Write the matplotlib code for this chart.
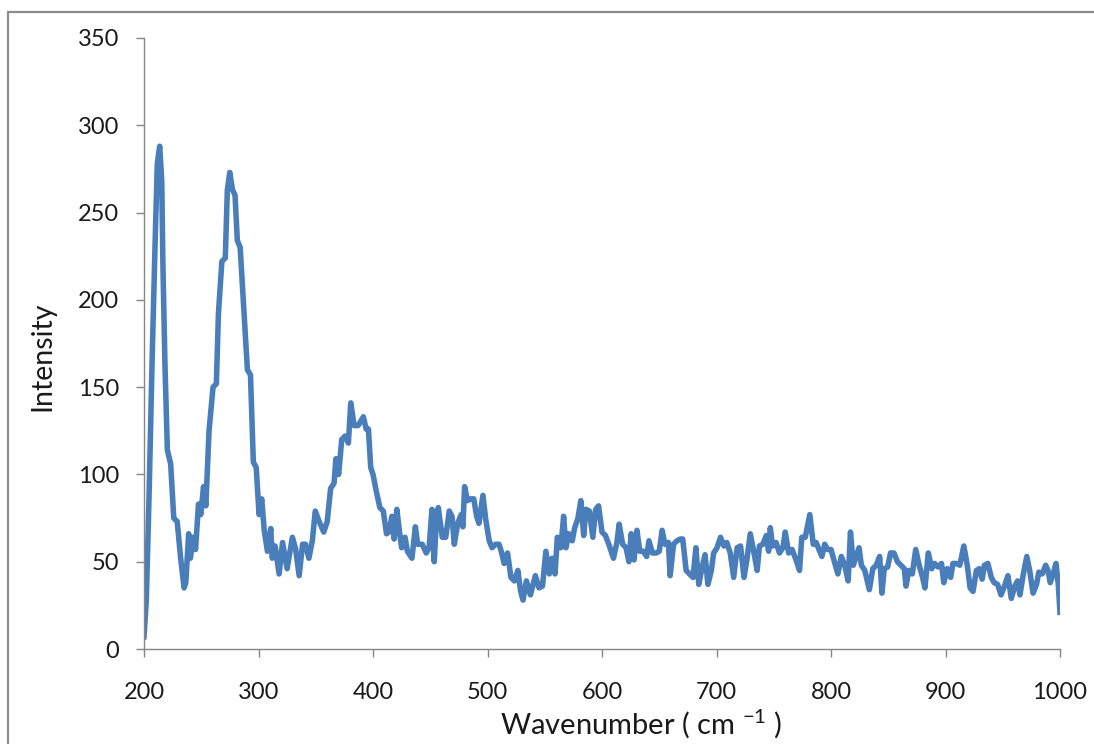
import numpy as np
import matplotlib.pyplot as plt
from matplotlib.patches import Rectangle

# Raman spectrum, values
wavenumber = [
    200, 202, 204.4, 207, 209.6, 211.6, 213.7, 215.5, 216.5, 218.3, 220.4, 223.3, 226, 229, 232, 235, 236.5,
    239, 240.5, 243, 245, 247.6, 249.6, 252, 254, 256.8, 260.3, 263.2, 265, 268, 271, 272.8, 274.9, 277.3,
    279.5, 281.5, 284, 287.4, 290.3, 293, 295.5, 298, 300.5, 302.8, 305, 307.8, 310.7, 312, 314.5, 318, 321,
    325, 329.6, 332.5, 335.5, 338.5, 341, 344, 347, 349.6, 353, 357, 360, 363, 366, 367.6, 370, 372.7, 375.6,
    378.5, 380.6, 383.5, 387, 391.6, 394, 396, 398, 400, 403, 406, 409, 411.8, 414, 416.5, 418.5, 420.8, 423,
    425, 428, 430, 434, 437, 439, 443, 446.5, 449, 451.5, 453.5, 455.5, 457, 460.5, 463.5, 466.6, 469, 471,
    474, 477, 478.5, 480, 482.5, 485.5, 488, 490.5, 492.5, 496, 498.5, 501.5, 504, 507, 510, 512, 514.5,
    517.5, 520.5, 523.5, 526.5, 529, 531, 534, 537.5, 541.8, 545, 548, 551, 554, 556.5, 559, 561, 564, 566.5,
    568.5, 571, 574, 576, 579, 581.5, 584, 586, 589, 592, 594.5, 597, 600, 603, 606.5, 610, 613, 615, 618,
    621, 623.5, 625.5, 628, 630.5, 633, 636, 639, 641, 644, 647.5, 650, 652.5, 655, 658, 659.5, 662.5, 665.5,
    668.5, 670.5, 673.5, 676.5, 679.5, 682, 684.5, 687.5, 690, 692.5, 695.5, 697.5, 700.5, 703.5, 706.5, 709,
    712, 715, 718, 721, 724, 726.5, 729.5, 732.5, 735.5, 737.5, 740.5, 743.5, 745.5, 747, 749, 752, 755, 758,
    760, 763, 766, 769.5, 772.5, 774.5, 777.5, 781.5, 784.5, 787, 789.5, 792, 794.5, 797, 800, 803, 806, 809,
    812, 815, 817, 819.5, 822, 824.5, 826.5, 829.5, 833.5, 836.5, 839.5, 842.5, 844.5, 846.5, 849.5, 852, 855,
    858, 861, 864, 865.5, 868, 871, 874, 877, 880, 882, 885, 888, 890.5, 893.5, 896.5, 898.5, 901.5, 904.5,
    906.5, 909.5, 912.5, 916, 919, 921.5, 924, 927, 929.5, 932, 934, 937, 940, 942.5, 945.5, 948.5, 951.5,
    954.5, 957.5, 960.5, 963, 965, 968, 971, 973.5, 976.5, 979.5, 981.5, 984.5, 987.5, 989.5, 991.5, 994,
    996.5, 998.5, 1000,
]
intensity = [
    7, 28, 87, 163, 230, 278, 288, 268, 221, 163, 114, 106, 75, 73, 52, 35, 38,
    66, 52, 64, 57, 83, 77, 93, 82, 125, 150, 152, 192, 222, 224, 263, 273, 263,
    260, 234, 230, 192, 160, 157, 107, 104, 77, 86, 68, 56, 69, 52, 59, 43, 61,
    46, 64, 57, 42, 60, 60, 52, 62, 79, 73, 67, 73, 92, 95, 109, 100, 120, 122,
    118, 141, 128, 128, 133, 126, 126, 104, 100, 90, 81, 79, 66, 67, 76, 63, 80, 68,
    58, 64, 56, 52, 70, 60, 60, 55, 58, 80, 50, 77, 81, 64, 64, 79, 76, 60,
    72, 77, 70, 93, 85, 86, 86, 76, 72, 88, 74, 62, 58, 60, 60, 56, 49,
    55, 41, 39, 45, 33, 28, 39, 31, 42, 35, 36, 56, 43, 52, 43, 64, 58, 76,
    58, 66, 62, 69, 75, 85, 65, 80, 79, 64, 80, 82, 67, 65, 59, 52, 61, 71.5, 60,
    58, 50, 66, 51, 68, 56, 56, 53, 62, 55, 55, 56, 68, 60, 61, 42, 60, 62,
    63, 63, 45, 43, 41, 58, 37, 47, 54, 37, 45, 55, 58, 64, 59, 61,
    55, 41, 58, 59, 41, 51, 66, 56, 45, 59, 60, 65, 56, 69.5, 59, 61, 55, 58,
    67, 55, 57, 51, 45, 64, 64, 77, 60, 61, 57, 53, 60, 57, 57, 50, 43, 53,
    48, 39, 67, 48, 53, 58, 48, 45, 34, 46, 48, 53, 32, 46, 47, 55, 55,
    50, 48, 46, 36, 45, 43, 57, 48, 41, 35, 55, 46, 49, 47, 49, 38, 46, 41,
    49, 49, 48, 59, 48, 35, 33, 45, 46, 40, 48, 49, 41, 38, 37, 31, 36,
    42, 29, 36, 39, 31, 43, 53, 45, 32, 37, 44, 43, 48, 45, 38, 43,
    49, 37, 21,
]
x_ticks = [200, 300, 400, 500, 600, 700, 800, 900, 1000]
y_ticks = [0, 50, 100, 150, 200, 250, 300, 350]

plt.rcParams['font.family'] = ['Lato', 'DejaVu Sans']
plt.rcParams['mathtext.fontset'] = 'custom'
plt.rcParams['mathtext.rm'] = 'Lato'
plt.rcParams['mathtext.it'] = 'Lato'

W, H = 1094, 744
fig = plt.figure(figsize=(W / 100, H / 100), dpi=100)
# axes box in pixels: left 144, right 1060, top 38, bottom 649
ax = fig.add_axes([144 / W, 1 - 649 / H, (1060 - 144) / W, (649 - 38) / H])

ax.plot(wavenumber, intensity, color='#4a7ebb', lw=4.0, solid_joinstyle='round')

ax.set_xlim(200, 1000)
ax.set_ylim(0, 350)
ax.set_xticks(x_ticks)
ax.set_yticks(y_ticks)

axis_gray = '#868686'
for side in ['top', 'right']:
    ax.spines[side].set_visible(False)
for side in ['left', 'bottom']:
    ax.spines[side].set_color(axis_gray)
    ax.spines[side].set_linewidth(1.0)
ax.tick_params(axis='both', direction='out', length=6, width=1.0, color=axis_gray,
               labelsize=17, labelcolor='#1a1a1a')
ax.tick_params(axis='x', pad=18)
ax.tick_params(axis='y', pad=12)

fig.text(42 / W, 1 - 356 / H, 'Intensity', rotation=90, ha='center', va='center',
         fontsize=20.5, color='#1a1a1a')
fig.text(641 / W, 1 - 724 / H, 'Wavenumber ( cm $^{-1}$ )', ha='center', va='center',
         fontsize=21, color='#1a1a1a')

# chart area border, runs off the right and bottom of the picture
fig.patches.append(Rectangle((8 / W, -0.05), 1.1, 1 - 12 / H + 0.05, transform=fig.transFigure,
                             fill=False, edgecolor='#8c8c8c', lw=1.6))

fig.savefig('out.png', dpi=100)
